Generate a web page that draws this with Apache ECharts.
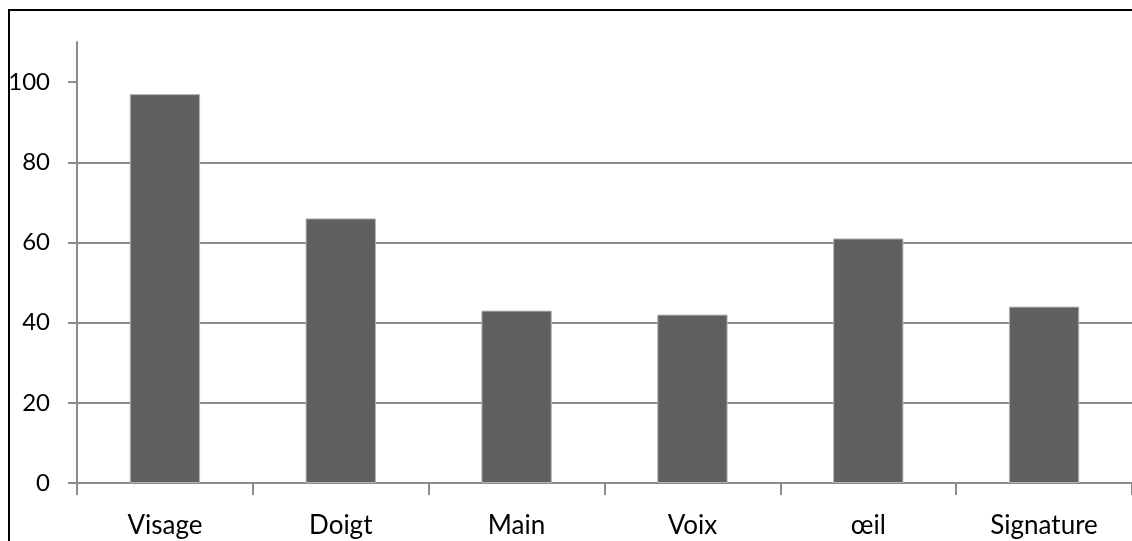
<!DOCTYPE html>
<html>
<head>
<meta charset="utf-8">
<script src="https://cdn.jsdelivr.net/npm/echarts@6/dist/echarts.min.js"></script>
<style>
  html, body { margin: 0; padding: 0; background: #fff; overflow: hidden; }
  #wrap { position: relative; width: 1132px; height: 541px; overflow: hidden; }
  #chart { position: absolute; left: 0; top: 0; width: 1132px; height: 541px; }
  .edge { position: absolute; background: #000; pointer-events: none; z-index: 2; }
  #edgeTop { left: 8px; top: 9px; width: 1124px; height: 2px; }
  #edgeLeft { left: 8px; top: 9px; width: 2px; height: 532px; }
</style>
</head>
<body>
<div id="wrap">
  <div id="chart"></div>
  <div class="edge" id="edgeTop"></div>
  <div class="edge" id="edgeLeft"></div>
</div>
<script>
// Modalités biométriques et valeurs correspondantes
const categories = ['Visage', 'Doigt', 'Main', 'Voix', 'œil', 'Signature'];
const values = [97, 66, 43, 42, 61, 44];
const yTicks = [0, 20, 40, 60, 80, 100];

const chart = echarts.init(document.getElementById('chart'), null, { renderer: 'canvas' });
const gridColor = '#8c8c8c';
const fontFamily = 'Lato, "Open Sans", sans-serif';

chart.setOption({
  animation: false,
  backgroundColor: '#fff',
  grid: { left: 77, right: 0, top: 42, bottom: 58, containLabel: false },
  xAxis: {
    type: 'category',
    data: categories,
    boundaryGap: true,
    axisLine: { show: true, lineStyle: { color: gridColor, width: 2 } },
    axisTick: { show: true, alignWithLabel: false, length: 12, lineStyle: { color: gridColor, width: 2 } },
    axisLabel: { margin: 30, color: '#000', fontSize: 26, fontFamily: fontFamily },
    splitLine: { show: false }
  },
  yAxis: {
    type: 'value',
    min: 0,
    max: 110,
    interval: 20,
    axisLine: { show: true, lineStyle: { color: gridColor, width: 2 } },
    axisTick: { show: true, length: 9, customValues: yTicks, lineStyle: { color: gridColor, width: 2 } },
    axisLabel: { margin: 27, color: '#000', fontSize: 24, fontFamily: fontFamily, customValues: yTicks },
    splitLine: { show: true, showMinLine: true, showMaxLine: false, lineStyle: { color: gridColor, width: 2 } }
  },
  series: [{
    type: 'bar',
    data: values,
    barWidth: '40%',
    itemStyle: { color: '#606060', borderColor: '#b4b4b4', borderWidth: 1 }
  }]
});
</script>
</body>
</html>
